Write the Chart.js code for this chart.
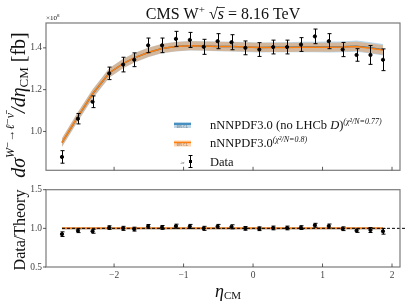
<!DOCTYPE html>
<html>
<head>
<meta charset="utf-8">
<script src="https://cdn.jsdelivr.net/npm/chart.js@4"></script>
<style>
html, body { margin: 0; padding: 0; background: #fff; }
#wrap { position: relative; width: 407px; height: 305px; }
canvas { position: absolute; left: 0; }
</style>
</head>
<body>
<div id="wrap">
  <canvas id="topChart" width="407" height="180" style="top:0"></canvas>
  <canvas id="botChart" width="407" height="125" style="top:180px"></canvas>
</div>
<script>
// eta_CM bin centres
const eta = [-2.75, -2.52, -2.31, -2.07, -1.87, -1.71, -1.51, -1.31, -1.11, -0.91, -0.71, -0.51,
             -0.31, -0.11, 0.09, 0.29, 0.49, 0.69, 0.89, 1.09, 1.29, 1.49, 1.69, 1.87];
// CMS data (x 10^8 fb)
const dados = [0.878, 1.061, 1.142, 1.278, 1.320, 1.343, 1.412, 1.412, 1.443, 1.438, 1.405, 1.432,
               1.427, 1.400, 1.392, 1.404, 1.404, 1.416, 1.455, 1.432, 1.392, 1.366, 1.366, 1.343];
const dadosErro = [0.030, 0.025, 0.028, 0.030, 0.035, 0.033, 0.035, 0.035, 0.036, 0.036, 0.036, 0.036,
                   0.036, 0.033, 0.033, 0.033, 0.033, 0.033, 0.035, 0.036, 0.034, 0.030, 0.045, 0.052];
// nNNPDF3.0 prediction
const teoria = [0.947, 1.072, 1.180, 1.280, 1.325, 1.352, 1.378, 1.397, 1.406, 1.410, 1.409, 1.407,
                1.406, 1.404, 1.402, 1.402, 1.402, 1.403, 1.403, 1.403, 1.404, 1.407, 1.398, 1.390];
const teoriaBanda = [0.020, 0.021, 0.021, 0.022, 0.022, 0.022, 0.022, 0.022, 0.022, 0.022, 0.022, 0.022,
                     0.022, 0.022, 0.022, 0.022, 0.022, 0.022, 0.022, 0.022, 0.022, 0.022, 0.023, 0.023];
// nNNPDF3.0 (no LHCb D)
const teoriaAzul = [0.946, 1.071, 1.179, 1.280, 1.325, 1.352, 1.378, 1.397, 1.406, 1.410, 1.409, 1.407,
                    1.406, 1.404, 1.402, 1.403, 1.403, 1.404, 1.404, 1.404, 1.405, 1.408, 1.400, 1.391];
const teoriaAzulBanda = [0.021, 0.022, 0.022, 0.023, 0.023, 0.023, 0.023, 0.023, 0.023, 0.023, 0.023, 0.023,
                         0.023, 0.024, 0.024, 0.024, 0.024, 0.025, 0.025, 0.026, 0.026, 0.027, 0.027, 0.027];
// Data / Theory
const razao = [0.925, 0.970, 0.962, 1.010, 1.000, 0.990, 1.025, 1.012, 1.028, 1.025, 1.000, 1.025,
               1.020, 1.000, 0.995, 1.005, 1.005, 1.010, 1.040, 1.030, 0.995, 0.970, 0.978, 0.962];
const razaoErro = [0.030, 0.025, 0.025, 0.023, 0.026, 0.025, 0.025, 0.025, 0.026, 0.026, 0.026, 0.026,
                   0.026, 0.024, 0.024, 0.024, 0.024, 0.024, 0.025, 0.026, 0.024, 0.022, 0.032, 0.037];
const razaoTeoria = [1, 1, 1, 1, 1, 1, 1, 1, 1, 1, 1, 1, 1, 1, 1, 1, 1, 1, 1, 1, 1, 1, 1, 1];
const razaoBanda = [0.016, 0.016, 0.016, 0.016, 0.016, 0.016, 0.016, 0.016, 0.016, 0.016, 0.016, 0.016,
                    0.016, 0.016, 0.016, 0.016, 0.016, 0.016, 0.016, 0.016, 0.016, 0.016, 0.016, 0.016];
const razaoAzulBanda = [0.017, 0.017, 0.017, 0.017, 0.017, 0.017, 0.017, 0.017, 0.017, 0.017, 0.017, 0.017,
                        0.017, 0.017, 0.018, 0.018, 0.018, 0.018, 0.018, 0.019, 0.019, 0.019, 0.019, 0.019];
const linhaRef = [-2.75, 2.2];

const xTicks = [-2, -1, 0, 1, 2];
const yTicksTopo = [1.0, 1.2, 1.4];
const yTicksBaixo = [0.5, 1.0, 1.5];
const xLimites = [-2.98, 2.115];
const yLimitesTopo = [0.814, 1.519];
const yLimitesBaixo = [0.5, 1.5];

const serif = "'Liberation Serif', 'DejaVu Serif', serif";
const azul = '#1f77b4';
const laranja = '#ff7f0e';
const azulBanda = 'rgba(31,119,180,0.30)';
const laranjaBanda = 'rgba(255,127,14,0.35)';

const pontos = (xs, ys) => xs.map((x, i) => ({ x: x, y: ys[i] }));
const soma = (a, b, s) => a.map((v, i) => v + s * b[i]);

function rich(ctx, parts, x, y, align) {
    let w = 0;
    for (const p of parts) { ctx.font = p.f; w += ctx.measureText(p.t).width; }
    let cx = align === 'center' ? x - w / 2 : x;
    const pos = [];
    for (const p of parts) {
        ctx.font = p.f;
        ctx.fillText(p.t, cx, y + (p.dy || 0));
        pos.push(cx);
        cx += ctx.measureText(p.t).width;
    }
    return pos;
}

function moldura(chart) {
    const { ctx, chartArea: a } = chart;
    ctx.save();
    ctx.strokeStyle = '#7a7a7a';
    ctx.lineWidth = 1.2;
    ctx.strokeRect(a.left, a.top, a.right - a.left, a.bottom - a.top);
    ctx.strokeStyle = '#333';
    ctx.lineWidth = 0.8;
    ctx.beginPath();
    for (const v of xTicks) {
        const px = chart.scales.x.getPixelForValue(v);
        ctx.moveTo(px, a.bottom);
        ctx.lineTo(px, a.bottom - 3.5);
    }
    for (const t of chart.scales.y.ticks) {
        const py = chart.scales.y.getPixelForValue(t.value);
        ctx.moveTo(a.left - 3, py);
        ctx.lineTo(a.left, py);
    }
    ctx.stroke();
    ctx.restore();
}

function barrasErro(chart, vals, errs) {
    const { ctx, scales: { x, y } } = chart;
    ctx.save();
    ctx.strokeStyle = '#000';
    ctx.lineWidth = 1;
    ctx.beginPath();
    eta.forEach((e, i) => {
        const px = Math.round(x.getPixelForValue(e)) + 0.5;
        const y1 = y.getPixelForValue(vals[i] - errs[i]);
        const y2 = y.getPixelForValue(vals[i] + errs[i]);
        ctx.moveTo(px, y1); ctx.lineTo(px, y2);
        ctx.moveTo(px - 2, y1); ctx.lineTo(px + 2, y1);
        ctx.moveTo(px - 2, y2); ctx.lineTo(px + 2, y2);
    });
    ctx.stroke();
    ctx.restore();
}

function patch(ctx, x, y, cor, banda) {
    ctx.fillStyle = banda;
    ctx.fillRect(x, y - 3, 17, 6);
    ctx.strokeStyle = cor;
    ctx.lineWidth = 1.5;
    ctx.beginPath(); ctx.moveTo(x, y - 1); ctx.lineTo(x + 17, y - 1); ctx.stroke();
    ctx.fillStyle = '#666';
    ctx.font = '3px ' + serif;
    ctx.textAlign = 'center';
    ctx.fillText('68% C.L.', x + 8.5, y + 2.5);
    ctx.textAlign = 'left';
}

const pluginTopo = {
    id: 'topo',
    afterDatasetsDraw(chart) { barrasErro(chart, dados, dadosErro); },
    afterDraw(chart) {
        const ctx = chart.ctx;
        moldura(chart);
        ctx.save();
        ctx.fillStyle = '#111';
        ctx.textBaseline = 'alphabetic';
        ctx.textAlign = 'left';
        // multiplicador
        rich(ctx, [{ t: '×10', f: '7px ' + serif }, { t: '8', f: '5px ' + serif, dy: -3 }], 46, 20);
        // titulo
        const pos = rich(ctx, [
            { t: 'CMS W', f: '16px ' + serif },
            { t: '+', f: '11px ' + serif, dy: -6 },
            { t: ' √', f: '16px ' + serif },
            { t: 's', f: 'italic 16px ' + serif },
            { t: ' = 8.16 TeV', f: '16px ' + serif }
        ], 223, 19, 'center');
        ctx.font = 'italic 16px ' + serif;
        const ws = ctx.measureText('s').width;
        ctx.strokeStyle = '#111';
        ctx.lineWidth = 0.8;
        ctx.beginPath(); ctx.moveTo(pos[3] - 1, 7.5); ctx.lineTo(pos[3] + ws + 1, 7.5); ctx.stroke();
        // rotulo y
        ctx.save();
        ctx.translate(25, 105);
        ctx.rotate(-Math.PI / 2);
        rich(ctx, [
            { t: 'dσ', f: 'italic 20px ' + serif },
            { t: 'W⁻→ℓ⁻ν̄', f: 'italic 12px ' + serif, dy: -11 },
            { t: '/dη', f: 'italic 20px ' + serif },
            { t: 'CM', f: '13px ' + serif, dy: 3 },
            { t: ' [fb]', f: '20px ' + serif }
        ], 0, 0, 'center');
        ctx.restore();
        // legenda
        patch(ctx, 174, 125, azul, azulBanda);
        patch(ctx, 174, 143.5, laranja, laranjaBanda);
        ctx.fillStyle = '#111';
        rich(ctx, [
            { t: 'nNNPDF3.0 (no LHCb ', f: '12.5px ' + serif },
            { t: 'D', f: 'italic 12.5px ' + serif },
            { t: ')', f: '12.5px ' + serif },
            { t: '(χ²/N=0.77)', f: 'italic 8px ' + serif, dy: -5 }
        ], 210, 128.5);
        rich(ctx, [
            { t: 'nNNPDF3.0', f: '12.5px ' + serif },
            { t: '(χ²/N=0.8)', f: 'italic 8px ' + serif, dy: -5 }
        ], 210, 147);
        rich(ctx, [{ t: 'Data', f: '12.5px ' + serif }], 210, 165.5);
        ctx.font = '4px ' + serif;
        ctx.fillStyle = '#555';
        ctx.fillText('±σ', 180, 163.5);
        ctx.strokeStyle = '#000';
        ctx.lineWidth = 1;
        ctx.beginPath();
        ctx.moveTo(190.5, 155.5); ctx.lineTo(190.5, 167.5);
        ctx.moveTo(188.5, 155.5); ctx.lineTo(192.5, 155.5);
        ctx.moveTo(188.5, 167.5); ctx.lineTo(192.5, 167.5);
        ctx.stroke();
        ctx.fillStyle = '#000';
        ctx.fillRect(189, 160, 3, 3);
        ctx.restore();
    }
};

const pluginBaixo = {
    id: 'baixo',
    afterDatasetsDraw(chart) { barrasErro(chart, razao, razaoErro); },
    afterDraw(chart) {
        const ctx = chart.ctx;
        moldura(chart);
        ctx.save();
        ctx.fillStyle = '#111';
        ctx.textBaseline = 'alphabetic';
        ctx.save();
        ctx.translate(25, 50);
        ctx.rotate(-Math.PI / 2);
        rich(ctx, [{ t: 'Data/Theory', f: '16px ' + serif }], 0, 0, 'center');
        ctx.restore();
        rich(ctx, [
            { t: 'η', f: 'italic 18px ' + serif },
            { t: 'CM', f: '11px ' + serif, dy: 2 }
        ], 228, 117, 'center');
        ctx.restore();
    }
};

function escalaX(mostraTicks, altura) {
    return {
        type: 'linear', min: xLimites[0], max: xLimites[1],
        grid: { display: false, drawTicks: false }, border: { display: false },
        ticks: {
            display: mostraTicks, font: { family: serif, size: 9.5 }, color: '#444', padding: 3,
            maxRotation: 0, callback: v => String(v).replace('-', '−')
        },
        afterBuildTicks: s => { s.ticks = xTicks.map(v => ({ value: v })); },
        afterFit: s => { s.height = altura; }
    };
}

function escalaY(lim, ticks) {
    return {
        type: 'linear', min: lim[0], max: lim[1],
        grid: { display: false, drawTicks: false }, border: { display: false },
        ticks: { font: { family: serif, size: 9.5 }, color: '#444', padding: 4, callback: v => Number(v).toFixed(1) },
        afterBuildTicks: s => { s.ticks = ticks.map(v => ({ value: v })); },
        afterFit: s => { s.width = 46; }
    };
}

const linha = (data, cor, ordem) => ({
    type: 'line', data: data, borderColor: cor, borderWidth: 1.5, pointRadius: 0, fill: false, order: ordem
});
const banda = (inf, sup, cor, ordem) => [
    { type: 'line', data: inf, borderWidth: 0, pointRadius: 0, fill: false, order: ordem },
    { type: 'line', data: sup, borderWidth: 0, pointRadius: 0, fill: '-1', backgroundColor: cor, order: ordem }
];

new Chart(document.getElementById('topChart'), {
    type: 'scatter',
    data: {
        datasets: [
            ...banda(pontos(eta, soma(teoriaAzul, teoriaAzulBanda, -1)), pontos(eta, soma(teoriaAzul, teoriaAzulBanda, 1)), azulBanda, 6),
            ...banda(pontos(eta, soma(teoria, teoriaBanda, -1)), pontos(eta, soma(teoria, teoriaBanda, 1)), laranjaBanda, 4),
            linha(pontos(eta, teoriaAzul), azul, 3),
            linha(pontos(eta, teoria), laranja, 2),
            { type: 'scatter', data: pontos(eta, dados), backgroundColor: '#000', borderColor: '#000', pointRadius: 1.6, order: 0 }
        ]
    },
    options: {
        responsive: false, animation: false, events: [],
        layout: { padding: { top: 23, right: 7, left: 0, bottom: 0 } },
        plugins: { legend: { display: false }, tooltip: { enabled: false } },
        scales: { x: escalaX(false, 3), y: escalaY(yLimitesTopo, yTicksTopo) }
    },
    plugins: [pluginTopo]
});

new Chart(document.getElementById('botChart'), {
    type: 'scatter',
    data: {
        datasets: [
            ...banda(pontos(eta, soma(razaoTeoria, razaoAzulBanda, -1)), pontos(eta, soma(razaoTeoria, razaoAzulBanda, 1)), azulBanda, 6),
            ...banda(pontos(eta, soma(razaoTeoria, razaoBanda, -1)), pontos(eta, soma(razaoTeoria, razaoBanda, 1)), laranjaBanda, 4),
            linha(pontos(eta, razaoTeoria), laranja, 2),
            { type: 'line', data: pontos(linhaRef, [1, 1]), borderColor: '#000', borderWidth: 1, borderDash: [3, 2], pointRadius: 0, fill: false, clip: false, order: 1 },
            { type: 'scatter', data: pontos(eta, razao), backgroundColor: '#000', borderColor: '#000', pointRadius: 1.6, order: 0 }
        ]
    },
    options: {
        responsive: false, animation: false, events: [],
        layout: { padding: { top: 6, right: 7, left: 0, bottom: 0 } },
        plugins: { legend: { display: false }, tooltip: { enabled: false } },
        scales: { x: escalaX(true, 38), y: escalaY(yLimitesBaixo, yTicksBaixo) }
    },
    plugins: [pluginBaixo]
});
</script>
</body>
</html>
